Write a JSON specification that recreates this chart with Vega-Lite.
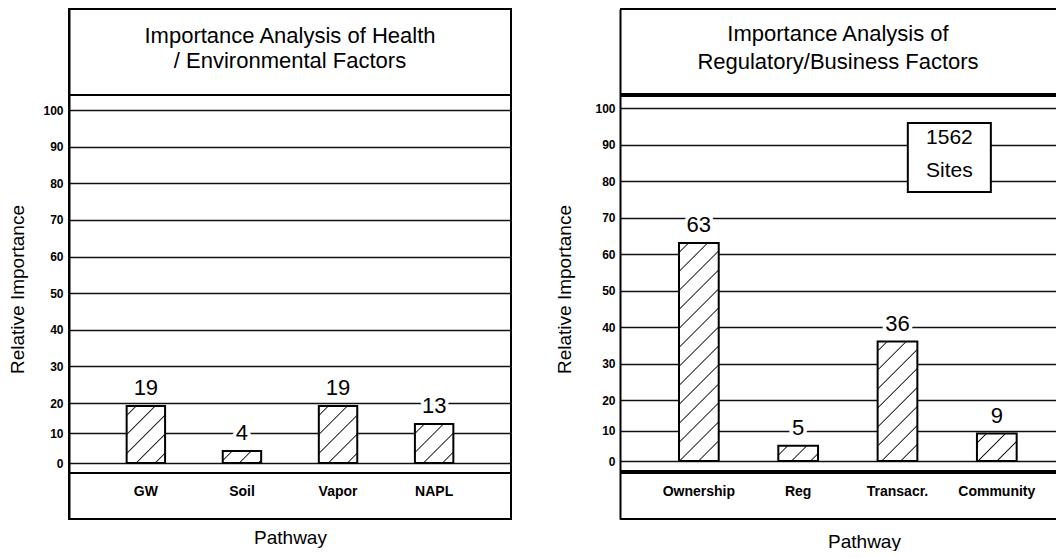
{
  "$schema": "https://vega.github.io/schema/vega-lite/v6.json",
  "background": "white",
  "padding": {"left": 7, "top": 8, "right": 0, "bottom": 0},
  "spacing": 42,
  "datasets": {
    "health": [
      {"pathway": "GW", "value": 19},
      {"pathway": "Soil", "value": 4},
      {"pathway": "Vapor", "value": 19},
      {"pathway": "NAPL", "value": 13}
    ],
    "business": [
      {"pathway": "Ownership", "value": 63},
      {"pathway": "Reg", "value": 5},
      {"pathway": "Transacr.", "value": 36},
      {"pathway": "Community", "value": 9}
    ]
  },
  "config": {
    "font": "Liberation Sans",
    "view": {"stroke": "black", "strokeWidth": 2},
    "axis": {"labelColor": "black", "titleColor": "black"}
  },
  "hconcat": [
    {
      "width": 442,
      "height": 510,
      "layer": [
        {
          "data": {"name": "health"},
          "mark": {"type": "bar", "stroke": "black", "strokeWidth": 2},
          "encoding": {
            "x": {"field": "pathway", "type": "nominal", "sort": null,
              "scale": {"paddingInner": 0.6, "paddingOuter": 0.6, "align": 0.5},
              "axis": {"orient": "bottom", "offset": -35, "domain": false, "ticks": false, "grid": false, "labelPadding": 0, "labelAngle": 0, "labelFontSize": 14, "labelFontWeight": "bold", "title": "Pathway", "titleFontSize": 19, "titleFontWeight": "normal", "titlePadding": 30}},
            "y": {"field": "value", "type": "quantitative",
              "scale": {"domain": [-16, 0, 20, 100, 128.5], "range": [510, 454, 394, 101, 0], "nice": false, "zero": false},
              "axis": {"values": [0, 10, 20, 30, 40, 50, 60, 70, 80, 90, 100], "grid": true, "gridColor": "#111", "gridWidth": 1.7, "domain": true, "domainColor": "black", "domainWidth": 2, "ticks": false, "labelPadding": 6, "labelFontSize": 12, "labelFontWeight": "bold", "title": "Relative Importance", "titleFontSize": 19, "titleFontWeight": "normal", "titlePadding": 15, "titleY": 280}},
            "y2": {"datum": 0},
            "fill": {
              "condition": [
                {"test": "datum.pathway === 'Soil'", "value": {"gradient": "linear", "x1": 0, "y1": 0, "x2": 1.1956, "y2": 0.3733, "stops": [
                  {"offset": 0, "color": "white"}, {"offset": 0.1626, "color": "white"}, {"offset": 0.1884, "color": "#111"}, {"offset": 0.2142, "color": "white"},
                  {"offset": 0.5394, "color": "white"}, {"offset": 0.5651, "color": "#111"}, {"offset": 0.5909, "color": "white"},
                  {"offset": 0.9161, "color": "white"}, {"offset": 0.9419, "color": "#111"}, {"offset": 0.9677, "color": "white"}, {"offset": 1, "color": "white"}]}},
                {"test": "datum.pathway === 'NAPL'", "value": {"gradient": "linear", "x1": 0, "y1": 0, "x2": 0.9926, "y2": 1.0073, "stops": [
                  {"offset": 0, "color": "white"}, {"offset": 0.1059, "color": "white"}, {"offset": 0.1227, "color": "#111"}, {"offset": 0.1395, "color": "white"},
                  {"offset": 0.3513, "color": "white"}, {"offset": 0.3681, "color": "#111"}, {"offset": 0.3849, "color": "white"},
                  {"offset": 0.5967, "color": "white"}, {"offset": 0.6135, "color": "#111"}, {"offset": 0.6302, "color": "white"},
                  {"offset": 0.8421, "color": "white"}, {"offset": 0.8588, "color": "#111"}, {"offset": 0.8756, "color": "white"}, {"offset": 1, "color": "white"}]}}
              ],
              "value": {"gradient": "linear", "x1": 0, "y1": 0, "x2": 0.776, "y2": 1.151, "stops": [
                {"offset": 0, "color": "white"}, {"offset": 0.0859, "color": "white"}, {"offset": 0.0995, "color": "#111"}, {"offset": 0.1132, "color": "white"},
                {"offset": 0.2850, "color": "white"}, {"offset": 0.2986, "color": "#111"}, {"offset": 0.3123, "color": "white"},
                {"offset": 0.4841, "color": "white"}, {"offset": 0.4977, "color": "#111"}, {"offset": 0.5114, "color": "white"},
                {"offset": 0.6832, "color": "white"}, {"offset": 0.6968, "color": "#111"}, {"offset": 0.7105, "color": "white"},
                {"offset": 0.8823, "color": "white"}, {"offset": 0.8960, "color": "#111"}, {"offset": 0.9096, "color": "white"}, {"offset": 1, "color": "white"}]}
            }
          }
        },
        {
          "data": {"values": [{}]},
          "mark": {"type": "rule", "stroke": "black", "strokeWidth": 2},
          "encoding": {"y": {"datum": 104.2, "type": "quantitative"}}
        },
        {
          "data": {"values": [{}]},
          "mark": {"type": "rule", "stroke": "black", "strokeWidth": 2},
          "encoding": {"y": {"datum": -2.86, "type": "quantitative"}}
        },
        {
          "data": {"name": "health"},
          "mark": {"type": "text", "fontSize": 22, "baseline": "alphabetic", "dy": -11, "fill": "white", "stroke": "white", "strokeWidth": 7, "strokeJoin": "round"},
          "encoding": {
            "x": {"field": "pathway", "type": "nominal", "sort": null},
            "y": {"field": "value", "type": "quantitative"},
            "text": {"field": "value", "type": "quantitative"}
          }
        },
        {
          "data": {"name": "health"},
          "mark": {"type": "text", "fontSize": 22, "baseline": "alphabetic", "dy": -11, "fill": "black"},
          "encoding": {
            "x": {"field": "pathway", "type": "nominal", "sort": null},
            "y": {"field": "value", "type": "quantitative"},
            "text": {"field": "value", "type": "quantitative"}
          }
        },
        {
          "data": {"values": [{}]},
          "mark": {"type": "text", "fontSize": 22, "baseline": "middle", "lineHeight": 25, "fill": "black"},
          "encoding": {
            "y": {"datum": 120.9, "type": "quantitative"},
            "text": {"value": ["Importance Analysis of Health", "/ Environmental Factors"]}
          }
        }
      ]
    },
    {
      "width": 436,
      "height": 510,
      "view": {"stroke": null},
      "layer": [
        {
          "data": {"name": "business"},
          "mark": {"type": "bar", "stroke": "black", "strokeWidth": 2},
          "encoding": {
            "x": {"field": "pathway", "type": "nominal", "sort": null,
              "scale": {"paddingInner": 0.6, "paddingOuter": 0.495, "align": 0.6},
              "axis": {"orient": "bottom", "offset": -35, "domain": false, "ticks": false, "grid": false, "labelPadding": 0, "labelAngle": 0, "labelFontSize": 14, "labelFontWeight": "bold", "title": "Pathway", "titleFontSize": 19, "titleFontWeight": "normal", "titlePadding": 34, "titleX": 244}},
            "y": {"field": "value", "type": "quantitative",
              "scale": {"domain": [-16, 0, 20, 100, 128.5], "range": [510, 452, 391, 99, 0], "nice": false, "zero": false},
              "axis": {"values": [0, 10, 20, 30, 40, 50, 60, 70, 80, 90, 100], "grid": true, "gridColor": "#111", "gridWidth": 1.7, "domain": true, "domainColor": "black", "domainWidth": 2, "ticks": false, "labelPadding": 5, "labelFontSize": 12, "labelFontWeight": "bold", "title": "Relative Importance", "titleFontSize": 19, "titleFontWeight": "normal", "titlePadding": 20, "titleY": 280}},
            "y2": {"datum": 0},
            "fill": {
              "condition": [
                {"test": "datum.pathway === 'Reg'", "value": {"gradient": "linear", "x1": 0, "y1": 0, "x2": 1.2061, "y2": 0.4633, "stops": [
                  {"offset": 0, "color": "white"}, {"offset": 0.1492, "color": "white"}, {"offset": 0.1729, "color": "#111"}, {"offset": 0.1965, "color": "white"},
                  {"offset": 0.4950, "color": "white"}, {"offset": 0.5187, "color": "#111"}, {"offset": 0.5423, "color": "white"},
                  {"offset": 0.8408, "color": "white"}, {"offset": 0.8644, "color": "#111"}, {"offset": 0.8881, "color": "white"}, {"offset": 1, "color": "white"}]}},
                {"test": "datum.pathway === 'Transacr.'", "value": {"gradient": "linear", "x1": 0, "y1": 0, "x2": 0.3989, "y2": 1.1999, "stops": [
                  {"offset": 0, "color": "white"}, {"offset": 0.0515, "color": "white"}, {"offset": 0.0597, "color": "#111"}, {"offset": 0.0679, "color": "white"},
                  {"offset": 0.1710, "color": "white"}, {"offset": 0.1791, "color": "#111"}, {"offset": 0.1873, "color": "white"},
                  {"offset": 0.2904, "color": "white"}, {"offset": 0.2986, "color": "#111"}, {"offset": 0.3067, "color": "white"},
                  {"offset": 0.4098, "color": "white"}, {"offset": 0.4180, "color": "#111"}, {"offset": 0.4261, "color": "white"},
                  {"offset": 0.5292, "color": "white"}, {"offset": 0.5374, "color": "#111"}, {"offset": 0.5456, "color": "white"},
                  {"offset": 0.6486, "color": "white"}, {"offset": 0.6568, "color": "#111"}, {"offset": 0.6650, "color": "white"},
                  {"offset": 0.7681, "color": "white"}, {"offset": 0.7762, "color": "#111"}, {"offset": 0.7844, "color": "white"},
                  {"offset": 0.8875, "color": "white"}, {"offset": 0.8957, "color": "#111"}, {"offset": 0.9038, "color": "white"}, {"offset": 1, "color": "white"}]}},
                {"test": "datum.pathway === 'Community'", "value": {"gradient": "linear", "x1": 0, "y1": 0, "x2": 1.1444, "y2": 0.7913, "stops": [
                  {"offset": 0, "color": "white"}, {"offset": 0.1221, "color": "white"}, {"offset": 0.1415, "color": "#111"}, {"offset": 0.1608, "color": "white"},
                  {"offset": 0.4051, "color": "white"}, {"offset": 0.4244, "color": "#111"}, {"offset": 0.4438, "color": "white"},
                  {"offset": 0.6880, "color": "white"}, {"offset": 0.7074, "color": "#111"}, {"offset": 0.7267, "color": "white"}, {"offset": 1, "color": "white"}]}}
              ],
              "value": {"gradient": "linear", "x1": 0, "y1": 0, "x2": 0.2084, "y2": 1.1442, "stops": [
                {"offset": 0, "color": "white"}, {"offset": 0.0318, "color": "white"}, {"offset": 0.0369, "color": "#111"}, {"offset": 0.0419, "color": "white"},
                {"offset": 0.1056, "color": "white"}, {"offset": 0.1106, "color": "#111"}, {"offset": 0.1156, "color": "white"},
                {"offset": 0.1793, "color": "white"}, {"offset": 0.1843, "color": "#111"}, {"offset": 0.1894, "color": "white"},
                {"offset": 0.2530, "color": "white"}, {"offset": 0.2581, "color": "#111"}, {"offset": 0.2631, "color": "white"},
                {"offset": 0.3267, "color": "white"}, {"offset": 0.3318, "color": "#111"}, {"offset": 0.3368, "color": "white"},
                {"offset": 0.4005, "color": "white"}, {"offset": 0.4055, "color": "#111"}, {"offset": 0.4106, "color": "white"},
                {"offset": 0.4742, "color": "white"}, {"offset": 0.4792, "color": "#111"}, {"offset": 0.4843, "color": "white"},
                {"offset": 0.5479, "color": "white"}, {"offset": 0.5530, "color": "#111"}, {"offset": 0.5580, "color": "white"},
                {"offset": 0.6217, "color": "white"}, {"offset": 0.6267, "color": "#111"}, {"offset": 0.6317, "color": "white"},
                {"offset": 0.6954, "color": "white"}, {"offset": 0.7004, "color": "#111"}, {"offset": 0.7055, "color": "white"},
                {"offset": 0.7691, "color": "white"}, {"offset": 0.7742, "color": "#111"}, {"offset": 0.7792, "color": "white"},
                {"offset": 0.8428, "color": "white"}, {"offset": 0.8479, "color": "#111"}, {"offset": 0.8529, "color": "white"},
                {"offset": 0.9166, "color": "white"}, {"offset": 0.9216, "color": "#111"}, {"offset": 0.9267, "color": "white"}, {"offset": 1, "color": "white"}]}
            }
          }
        },
        {
          "data": {"values": [{}]},
          "mark": {"type": "rule", "stroke": "black", "strokeWidth": 2},
          "encoding": {"y": {"datum": 128.5, "type": "quantitative"}}
        },
        {
          "data": {"values": [{}]},
          "mark": {"type": "rule", "stroke": "black", "strokeWidth": 2},
          "encoding": {"y": {"datum": -16, "type": "quantitative"}}
        },
        {
          "data": {"values": [{}]},
          "mark": {"type": "rule", "stroke": "black", "strokeWidth": 4},
          "encoding": {"y": {"datum": 103.74, "type": "quantitative"}}
        },
        {
          "data": {"values": [{}]},
          "mark": {"type": "rule", "stroke": "black", "strokeWidth": 4},
          "encoding": {"y": {"datum": -3.03, "type": "quantitative"}}
        },
        {
          "data": {"name": "business"},
          "mark": {"type": "text", "fontSize": 22, "baseline": "alphabetic", "dy": -11, "fill": "white", "stroke": "white", "strokeWidth": 7, "strokeJoin": "round"},
          "encoding": {
            "x": {"field": "pathway", "type": "nominal", "sort": null},
            "y": {"field": "value", "type": "quantitative"},
            "text": {"field": "value", "type": "quantitative"}
          }
        },
        {
          "data": {"name": "business"},
          "mark": {"type": "text", "fontSize": 22, "baseline": "alphabetic", "dy": -11, "fill": "black"},
          "encoding": {
            "x": {"field": "pathway", "type": "nominal", "sort": null},
            "y": {"field": "value", "type": "quantitative"},
            "text": {"field": "value", "type": "quantitative"}
          }
        },
        {
          "data": {"values": [{}]},
          "mark": {"type": "rect", "fill": "white", "stroke": "black", "strokeWidth": 2},
          "encoding": {
            "x": {"datum": "Transacr.", "type": "nominal", "bandPosition": 0.76},
            "x2": {"datum": "Community", "bandPosition": 0.35},
            "y": {"datum": 95.9, "type": "quantitative"},
            "y2": {"datum": 77.0}
          }
        },
        {
          "data": {"values": [{}]},
          "mark": {"type": "text", "fontSize": 21, "baseline": "middle", "lineHeight": 33, "fill": "black"},
          "encoding": {
            "x": {"datum": "Transacr.", "type": "nominal", "bandPosition": 1.807},
            "y": {"datum": 91.8, "type": "quantitative"},
            "text": {"value": ["1562", "Sites"]}
          }
        },
        {
          "data": {"values": [{}]},
          "mark": {"type": "text", "fontSize": 22, "baseline": "middle", "lineHeight": 28, "fill": "black"},
          "encoding": {
            "y": {"datum": 121.3, "type": "quantitative"},
            "text": {"value": ["Importance Analysis of", "Regulatory/Business Factors"]}
          }
        }
      ]
    }
  ]
}
